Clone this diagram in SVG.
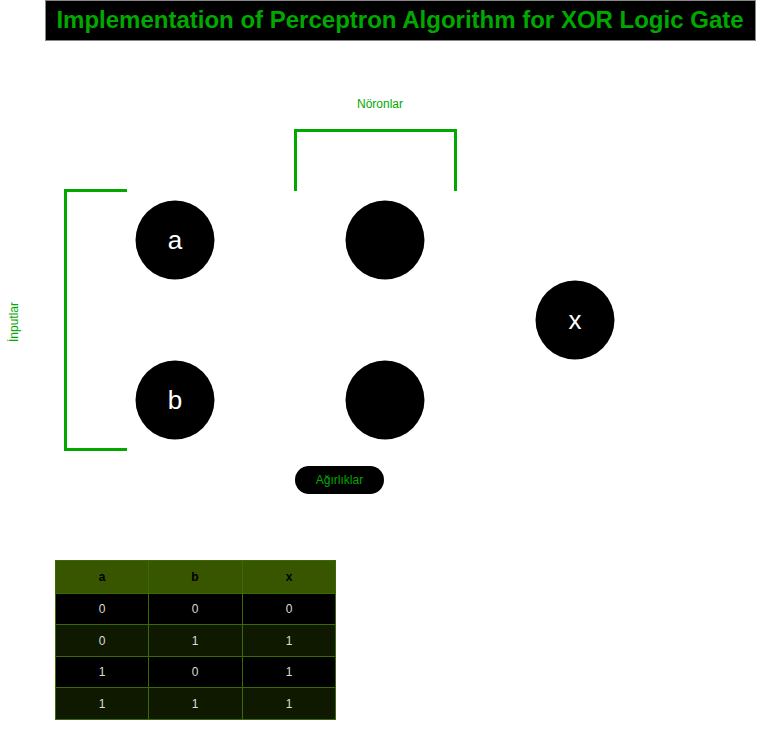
<svg xmlns="http://www.w3.org/2000/svg" width="766" height="735" viewBox="0 0 766 735">
<style>
.br{fill:none;stroke:#00a800;stroke-width:3}
.nd{fill:#000}
.nt{font-family:"Liberation Sans",Arial,sans-serif;font-size:26px;fill:#fff;text-anchor:middle}
.lb{font-family:"Liberation Sans",Arial,sans-serif;font-size:12px;fill:#00a800;text-anchor:middle}
.th{font-family:"Liberation Sans",Arial,sans-serif;font-size:12px;font-weight:bold;fill:#000;text-anchor:middle}
.td{font-family:"Liberation Sans",Arial,sans-serif;font-size:12px;fill:#ddd;text-anchor:middle}
.cell{stroke:#3a6a00;stroke-width:1}
</style>
<rect width="766" height="735" fill="#fff"/>
<g id="title">
<rect x="45.5" y="0.5" width="710" height="40" fill="#000" stroke="#888"/>
<text x="400" y="28" font-family="Liberation Sans,Arial,sans-serif" font-size="24" font-weight="bold" fill="#00a800" text-anchor="middle">Implementation of Perceptron Algorithm for XOR Logic Gate</text>
</g>
<g id="connectors">
<polyline class="br" points="127,190.5 65.5,190.5 65.5,449.5 127,449.5"/>
<polyline class="br" points="295.5,191 295.5,130.5 455.5,130.5 455.5,191"/>
</g>
<g id="label-noronlar"><text class="lb" x="380" y="108">Nöronlar</text></g>
<g id="label-inputlar"><text class="lb" transform="translate(18,322) rotate(-90)">İnputlar</text></g>
<g id="node-a"><circle class="nd" cx="175" cy="240" r="39.5"/><text class="nt" x="175" y="249">a</text></g>
<g id="node-b"><circle class="nd" cx="175" cy="400" r="39.5"/><text class="nt" x="175" y="409">b</text></g>
<g id="node-n1"><circle class="nd" cx="385" cy="240" r="39.5"/></g>
<g id="node-n2"><circle class="nd" cx="385" cy="400" r="39.5"/></g>
<g id="node-x"><circle class="nd" cx="575" cy="320" r="39.5"/><text class="nt" x="575" y="329">x</text></g>
<g id="weights"><rect x="295" y="466" width="89" height="28" rx="14" fill="#000"/><text class="lb" x="339.5" y="484">Ağırlıklar</text></g>
<g id="table">
<rect class="cell" x="55.5" y="560.5" width="93" height="33" fill="#385600"/>
<rect class="cell" x="148.5" y="560.5" width="94" height="33" fill="#385600"/>
<rect class="cell" x="242.5" y="560.5" width="93" height="33" fill="#385600"/>
<rect class="cell" x="55.5" y="593.5" width="93" height="31" fill="#000"/>
<rect class="cell" x="148.5" y="593.5" width="94" height="31" fill="#000"/>
<rect class="cell" x="242.5" y="593.5" width="93" height="31" fill="#000"/>
<rect class="cell" x="55.5" y="624.5" width="93" height="32" fill="#0f1900"/>
<rect class="cell" x="148.5" y="624.5" width="94" height="32" fill="#0f1900"/>
<rect class="cell" x="242.5" y="624.5" width="93" height="32" fill="#0f1900"/>
<rect class="cell" x="55.5" y="656.5" width="93" height="31" fill="#000"/>
<rect class="cell" x="148.5" y="656.5" width="94" height="31" fill="#000"/>
<rect class="cell" x="242.5" y="656.5" width="93" height="31" fill="#000"/>
<rect class="cell" x="55.5" y="687.5" width="93" height="32" fill="#0f1900"/>
<rect class="cell" x="148.5" y="687.5" width="94" height="32" fill="#0f1900"/>
<rect class="cell" x="242.5" y="687.5" width="93" height="32" fill="#0f1900"/>
<text class="th" x="102" y="581">a</text><text class="th" x="195" y="581">b</text><text class="th" x="289" y="581">x</text>
<text class="td" x="102" y="613">0</text><text class="td" x="195" y="613">0</text><text class="td" x="289" y="613">0</text>
<text class="td" x="102" y="645">0</text><text class="td" x="195" y="645">1</text><text class="td" x="289" y="645">1</text>
<text class="td" x="102" y="676">1</text><text class="td" x="195" y="676">0</text><text class="td" x="289" y="676">1</text>
<text class="td" x="102" y="708">1</text><text class="td" x="195" y="708">1</text><text class="td" x="289" y="708">1</text>
</g>
</svg>
